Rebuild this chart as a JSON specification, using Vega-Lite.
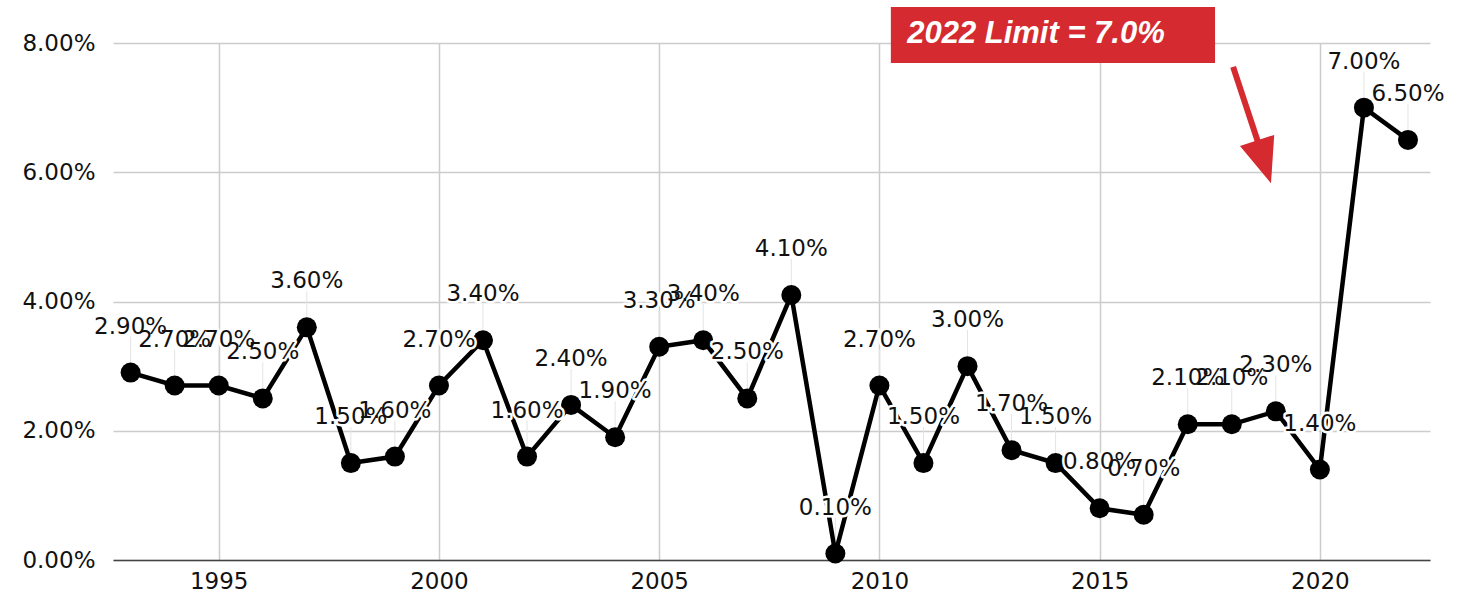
{
  "$schema": "https://vega.github.io/schema/vega-lite/v6.json",
  "width": 1317,
  "height": 517,
  "autosize": "none",
  "padding": {"left": 113, "top": 43, "right": 28, "bottom": 40},
  "background": "white",
  "config": {
    "view": {"stroke": null},
    "font": "DejaVu Sans"
  },
  "datasets": {
    "rates": [
      {"year": 1993, "v": 0.029},
      {"year": 1994, "v": 0.027},
      {"year": 1995, "v": 0.027},
      {"year": 1996, "v": 0.025},
      {"year": 1997, "v": 0.036},
      {"year": 1998, "v": 0.015},
      {"year": 1999, "v": 0.016},
      {"year": 2000, "v": 0.027},
      {"year": 2001, "v": 0.034},
      {"year": 2002, "v": 0.016},
      {"year": 2003, "v": 0.024},
      {"year": 2004, "v": 0.019},
      {"year": 2005, "v": 0.033},
      {"year": 2006, "v": 0.034},
      {"year": 2007, "v": 0.025},
      {"year": 2008, "v": 0.041},
      {"year": 2009, "v": 0.001},
      {"year": 2010, "v": 0.027},
      {"year": 2011, "v": 0.015},
      {"year": 2012, "v": 0.030},
      {"year": 2013, "v": 0.017},
      {"year": 2014, "v": 0.015},
      {"year": 2015, "v": 0.008},
      {"year": 2016, "v": 0.007},
      {"year": 2017, "v": 0.021},
      {"year": 2018, "v": 0.021},
      {"year": 2019, "v": 0.023},
      {"year": 2020, "v": 0.014},
      {"year": 2021, "v": 0.070},
      {"year": 2022, "v": 0.065}
    ],
    "box": [
      {"x": 2010.26, "x2": 2017.62, "y": 0.08557, "y2": 0.0769, "tx": 2010.63, "ty": 0.0814, "label": "2022 Limit = 7.0%"}
    ],
    "arrow": [
      {"x": 2018.03, "y": 0.0763, "x2": 2018.69, "y2": 0.0627, "tipx": 2018.89, "tipy": 0.0583}
    ]
  },
  "layer": [
    {
      "data": {"name": "rates"},
      "mark": {"type": "rule", "color": "#e4e4e4", "strokeWidth": 1, "yOffset": -10, "y2Offset": -36},
      "encoding": {
        "x": {
          "field": "year", "type": "quantitative",
          "scale": {"domain": [1992.6, 2022.5], "nice": false, "zero": false},
          "axis": {
            "values": [1995, 2000, 2005, 2010, 2015, 2020],
            "format": "d",
            "title": null,
            "grid": true,
            "gridColor": "#cccccc",
            "gridWidth": 1.5,
            "ticks": false,
            "domain": true,
            "domainColor": "#444444",
            "domainWidth": 1.5,
            "labelFont": "DejaVu Sans",
            "labelFontSize": 23,
            "labelColor": "#111111",
            "labelPadding": 10
          }
        },
        "y": {
          "field": "v", "type": "quantitative",
          "scale": {"domain": [0, 0.08], "nice": false, "zero": true},
          "axis": {
            "values": [0, 0.02, 0.04, 0.06, 0.08],
            "format": ".2%",
            "title": null,
            "grid": true,
            "gridColor": "#cccccc",
            "gridWidth": 1.5,
            "ticks": false,
            "domain": false,
            "labelFont": "DejaVu Sans",
            "labelFontSize": 23,
            "labelColor": "#111111",
            "labelPadding": 18
          }
        },
        "y2": {"field": "v"}
      }
    },
    {
      "data": {"name": "rates"},
      "mark": {"type": "line", "color": "#000000", "strokeWidth": 4.5},
      "encoding": {
        "x": {"field": "year", "type": "quantitative"},
        "y": {"field": "v", "type": "quantitative"}
      }
    },
    {
      "data": {"name": "rates"},
      "mark": {"type": "point", "filled": true, "color": "#000000", "size": 400, "opacity": 1},
      "encoding": {
        "x": {"field": "year", "type": "quantitative"},
        "y": {"field": "v", "type": "quantitative"}
      }
    },
    {
      "data": {"name": "rates"},
      "mark": {"type": "text", "dy": -46, "baseline": "middle", "align": "center", "font": "DejaVu Sans", "fontSize": 23, "color": "#ffffff", "stroke": "#ffffff", "strokeWidth": 5, "strokeJoin": "round"},
      "encoding": {
        "x": {"field": "year", "type": "quantitative"},
        "y": {"field": "v", "type": "quantitative"},
        "text": {"field": "v", "type": "quantitative", "format": ".2%"}
      }
    },
    {
      "data": {"name": "rates"},
      "mark": {"type": "text", "dy": -46, "baseline": "middle", "align": "center", "font": "DejaVu Sans", "fontSize": 23, "color": "#111111"},
      "encoding": {
        "x": {"field": "year", "type": "quantitative"},
        "y": {"field": "v", "type": "quantitative"},
        "text": {"field": "v", "type": "quantitative", "format": ".2%"}
      }
    },
    {
      "data": {"name": "box"},
      "mark": {"type": "rect", "color": "#d42a30", "clip": false},
      "encoding": {
        "x": {"field": "x", "type": "quantitative"},
        "x2": {"field": "x2"},
        "y": {"field": "y", "type": "quantitative"},
        "y2": {"field": "y2"}
      }
    },
    {
      "data": {"name": "box"},
      "mark": {"type": "text", "align": "left", "baseline": "middle", "font": "Liberation Sans", "fontSize": 31, "fontWeight": "bold", "fontStyle": "italic", "color": "#ffffff", "clip": false},
      "encoding": {
        "x": {"field": "tx", "type": "quantitative"},
        "y": {"field": "ty", "type": "quantitative"},
        "text": {"field": "label"}
      }
    },
    {
      "data": {"name": "arrow"},
      "mark": {"type": "rule", "color": "#d42a30", "strokeWidth": 6, "clip": false},
      "encoding": {
        "x": {"field": "x", "type": "quantitative"},
        "x2": {"field": "x2"},
        "y": {"field": "y", "type": "quantitative"},
        "y2": {"field": "y2"}
      }
    },
    {
      "data": {"name": "arrow"},
      "mark": {"type": "point", "filled": true, "color": "#d42a30", "opacity": 1, "shape": "M-0.8,-2L0.8,-2L0,0Z", "size": 2025, "angle": -18, "clip": false},
      "encoding": {
        "x": {"field": "tipx", "type": "quantitative"},
        "y": {"field": "tipy", "type": "quantitative"}
      }
    }
  ]
}
